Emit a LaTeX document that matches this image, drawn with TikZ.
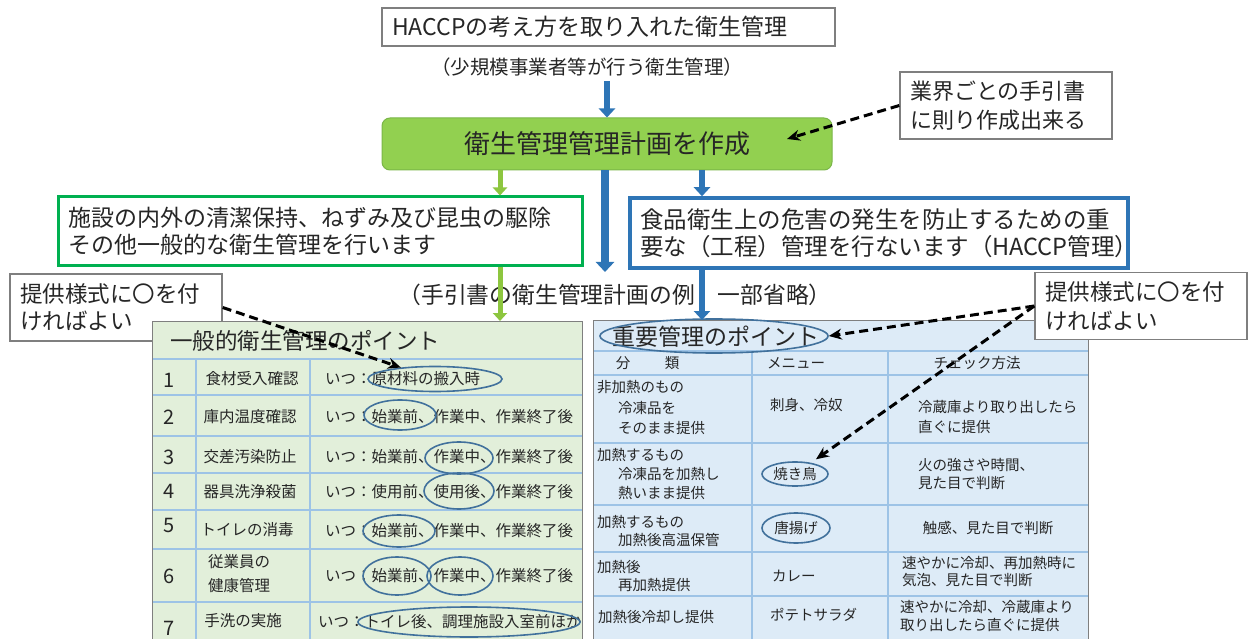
\documentclass[tikz,border=0pt]{standalone}
\usepackage{fontspec}
\setmainfont{Noto Sans CJK JP}
\usetikzlibrary{arrows.meta,shapes.geometric}
\definecolor{blueA}{HTML}{2E75B6}
\definecolor{greenA}{HTML}{8DC63F}
\definecolor{greenB}{HTML}{00B050}
\definecolor{planfill}{HTML}{92D050}
\definecolor{planedge}{HTML}{7AB648}
\definecolor{ltfill}{HTML}{E2EFDA}
\definecolor{rtfill}{HTML}{DDEBF7}
\definecolor{gridc}{HTML}{9DC3E6}
\definecolor{ovalc}{HTML}{41719C}
\definecolor{boxgrey}{HTML}{7F7F7F}
\definecolor{txt}{HTML}{262626}
\newcommand{\jfs}[2]{\fontsize{#1}{#2}\selectfont}
\tikzset{
  plainbox/.style={draw=boxgrey, fill=white, line width=1.4pt, inner xsep=10pt, inner ysep=0pt, text=txt},
  notebox/.style={plainbox, minimum width=212pt, minimum height=67pt, text width=192pt, align=left, font=\jfs{22}{29}},
  planbox/.style={draw=planedge, fill=planfill, line width=1pt, rounded corners=8pt, text=txt},
  gframe/.style={draw=greenB, fill=white, line width=3pt, inner xsep=10pt, align=left, text=txt, font=\jfs{23}{27}},
  bframe/.style={draw=blueA, fill=white, line width=3.5pt, inner xsep=10pt, align=left, text=txt, font=\jfs{23.5}{27}},
  barrow/.style={draw=blueA, line width=6pt, -{Triangle[width=16pt,length=9pt]}},
  barrowthick/.style={draw=blueA, line width=8pt, -{Triangle[width=18pt,length=10pt]}},
  garrow/.style={draw=greenA, line width=5pt, -{Triangle[width=14pt,length=8pt]}},
  dasharrow/.style={draw=black, line width=3pt, dash pattern=on 9pt off 5pt, -{Stealth[length=13pt,width=11pt]}},
  tablebox/.style={draw=boxgrey, line width=1pt, inner sep=0pt, anchor=north west},
  gridline/.style={draw=gridc, line width=1.2pt},
  oval/.style={ellipse, draw=ovalc, line width=1.6pt, inner sep=0pt},
  lt/.style={font=\jfs{15.5}{18}, text=txt, inner sep=0pt},
  ltw/.style={lt, anchor=west},
  num/.style={font=\jfs{20}{22}, text=txt, inner sep=0pt},
  rt/.style={font=\jfs{14.5}{17}, text=txt, inner sep=0pt, anchor=west},
  rtc/.style={font=\jfs{14.5}{17}, text=txt, inner sep=0pt},
  ttl/.style={font=\jfs{22.5}{24}, text=txt, inner sep=0pt, anchor=west}
}
\begin{document}
\begin{tikzpicture}[x=1pt,y=-1pt]
\clip (0,0) rectangle (1248,639);
\fill[white] (0,0) rectangle (1248,639);

% top part
\node[plainbox, minimum width=453pt, minimum height=38pt, text width=433pt, align=left, font=\jfs{23}{25}] (top) at (608.5,27) {HACCPの考え方を取り入れた衛生管理};
\node[font=\jfs{19.5}{21}, text=txt, inner sep=1pt] (sub) at (587,67) {（少規模事業者等が行う衛生管理）};
\node[planbox, minimum width=450pt, minimum height=52pt, font=\jfs{26}{28}] (plan) at (607,144) {衛生管理管理計画を作成};
\node[notebox] (gnote) at (1006,105.5) {業界ごとの手引書\\に則り作成出来る};

\coordinate (gx) at (500,0);
\coordinate (bx) at (702,0);
\coordinate (cend) at (605,272);
\coordinate (plantip) at (787,139);

\draw[barrow, shorten <=4pt] (plan.north |- sub.south) -- (plan.north);

% second level boxes
\node[gframe, minimum width=524pt, minimum height=69pt, text width=504pt] (gbox) at (320,231.5) {施設の内外の清潔保持、ねずみ及び昆虫の駆除\\その他一般的な衛生管理を行います};
\node[bframe, minimum width=498pt, minimum height=70pt, text width=478pt] (bbox) at (879,233) {食品衛生上の危害の発生を防止するための重\\要な（工程）管理を行ないます（HACCP管理）};

\draw[garrow] (plan.south -| gx) -- (gbox.north -| gx);
\draw[barrowthick] (plan.south -| cend) -- (cend);
\draw[barrow] (plan.south -| bx) -- (bbox.north -| bx);

\node[font=\jfs{22.8}{24}, text=txt, inner sep=0pt] (lbl) at (615,295) {（手引書の衛生管理計画の例　一部省略）};

% left note and table
\node[notebox, font=\jfs{22.5}{27}] (lnote) at (116,307.5) {提供様式に〇を付\\ければよい};
\node[tablebox, fill=ltfill, minimum width=430pt, minimum height=340pt] (ltab) at (152,321) {};
\foreach \yy in {359,395,436,473,510,549,602} \draw[gridline] (152.5,\yy) -- (581.5,\yy);
\foreach \xx in {196,310} \draw[gridline] (\xx,359) -- (\xx,640);
\draw[draw=boxgrey, line width=1pt] (152,321) rectangle (582,660);

\node[ttl] (lttl) at (170,341) {一般的衛生管理のポイント};
\node[num] (n1) at (169,380) {1};
\node[num] (n2) at (169,417) {2};
\node[num] (n3) at (169,457) {3};
\node[num] (n4) at (169,491) {4};
\node[num] (n5) at (169,525) {5};
\node[num] (n6) at (169,576) {6};
\node[num] (n7) at (169,628) {7};
\node[lt] (c1) at (252,379) {食材受入確認};
\node[lt] (c2) at (250,417) {庫内温度確認};
\node[lt] (c3) at (250,457) {交差汚染防止};
\node[lt] (c4) at (250,492) {器具洗浄殺菌};
\node[lt] (c5) at (247,530) {トイレの消毒};
\node[ltw] (c6a) at (208,562) {従業員の};
\node[ltw] (c6b) at (208,586) {健康管理};
\node[lt] (c7) at (243,621) {手洗の実施};
\node[ltw] (w1) at (325,379) {いつ：原材料の搬入時};
\node[ltw] (w2) at (325,417) {いつ：始業前、作業中、作業終了後};
\node[ltw] (w3) at (325,457) {いつ：始業前、作業中、作業終了後};
\node[ltw] (w4) at (325,492) {いつ：使用前、使用後、作業終了後};
\node[ltw] (w5) at (325,531) {いつ：始業前、作業中、作業終了後};
\node[ltw] (w6) at (325,576) {いつ：始業前、作業中、作業終了後};
\node[ltw] (w7) at (318,622) {いつ：トイレ後、調理施設入室前ほか};

\node[oval, minimum width=134pt, minimum height=25pt] (e1) at (435,379) {};
\node[oval, minimum width=72pt, minimum height=30pt] (e2) at (400,415) {};
\node[oval, minimum width=68pt, minimum height=32pt] (e3) at (459,458) {};
\node[oval, minimum width=70pt, minimum height=36pt] (e4) at (459,491) {};
\node[oval, minimum width=72pt, minimum height=32pt] (e5) at (399,531) {};
\node[oval, minimum width=68pt, minimum height=38pt] (e6a) at (397,576) {};
\node[oval, minimum width=66pt, minimum height=38pt] (e6b) at (460,576) {};
\node[oval, minimum width=222pt, minimum height=30pt] (e7) at (469,622) {};

% right table
\node[tablebox, fill=rtfill, minimum width=495pt, minimum height=341pt] (rtab) at (593,320) {};
\foreach \yy in {351,375,443,505,552,596} \draw[gridline] (593.5,\yy) -- (1087.5,\yy);
\foreach \xx in {752,888} \draw[gridline] (\xx,351) -- (\xx,640);
\draw[draw=boxgrey, line width=1pt] (593,320) rectangle (1088,660);

\node[ttl, font=\jfs{23}{25}] (rttl) at (612,337) {重要管理のポイント};
\node[oval, minimum width=228pt, minimum height=34pt] (et) at (714,336) {};
\node[rtc] (h1a) at (623,363) {分};
\node[rtc] (h1b) at (672,363) {類};
\node[rtc] (h2) at (796,363) {メニュー};
\node[rtc] (h3) at (977,363) {チェック方法};

\node[rt] (r1a) at (597,387) {非加熱のもの};
\node[rt] (r1b) at (618,408) {冷凍品を};
\node[rt] (r1c) at (618,428) {そのまま提供};
\node[rt] (m1) at (770,405) {刺身、冷奴};
\node[rt] (k1a) at (918,407) {冷蔵庫より取り出したら};
\node[rt] (k1b) at (918,427) {直ぐに提供};

\node[rt] (r2a) at (597,455) {加熱するもの};
\node[rt] (r2b) at (618,474) {冷凍品を加熱し};
\node[rt] (r2c) at (618,493) {熱いまま提供};
\node[rtc] (m2) at (795,474) {焼き鳥};
\node[rt] (k2a) at (918,465) {火の強さや時間、};
\node[rt] (k2b) at (918,483) {見た目で判断};
\node[oval, minimum width=66pt, minimum height=24pt] (eyaki) at (795,474) {};

\node[rt] (r3a) at (597,522) {加熱するもの};
\node[rt] (r3b) at (618,540) {加熱後高温保管};
\node[rtc] (m3) at (796,528) {唐揚げ};
\node[rtc] (k3) at (988,528) {触感、見た目で判断};
\node[oval, minimum width=68pt, minimum height=30pt] (ekara) at (796,528) {};

\node[rt] (r4a) at (597,567) {加熱後};
\node[rt] (r4b) at (618,585) {再加熱提供};
\node[rt] (m4) at (772,576) {カレー};
\node[rt] (k4a) at (902,563) {速やかに冷却、再加熱時に};
\node[rt] (k4b) at (902,580) {気泡、見た目で判断};

\node[rt] (r5a) at (598,617) {加熱後冷却し提供};
\node[rt] (m5) at (770,615) {ポテトサラダ};
\node[rt] (k5a) at (900,607) {速やかに冷却、冷蔵庫より};
\node[rt] (k5b) at (900,625) {取り出したら直ぐに提供};

\node[notebox, font=\jfs{22.5}{29}] (rnote) at (1141,306) {提供様式に〇を付\\ければよい};

% arrows into tables
\draw[garrow] (gbox.south -| gx) -- (ltab.north -| gx);
\draw[barrow] (bbox.south -| bx) -- (rtab.north -| bx);

% dashed pointers
\draw[dasharrow] (gnote.west) -- (plantip);
\draw[dasharrow] (lnote.east) -- (e1);
\draw[dasharrow] (rnote.west) -- (et.east);
\draw[dasharrow, shorten >=6pt] (rnote.west) -- (eyaki);
\end{tikzpicture}
\end{document}
